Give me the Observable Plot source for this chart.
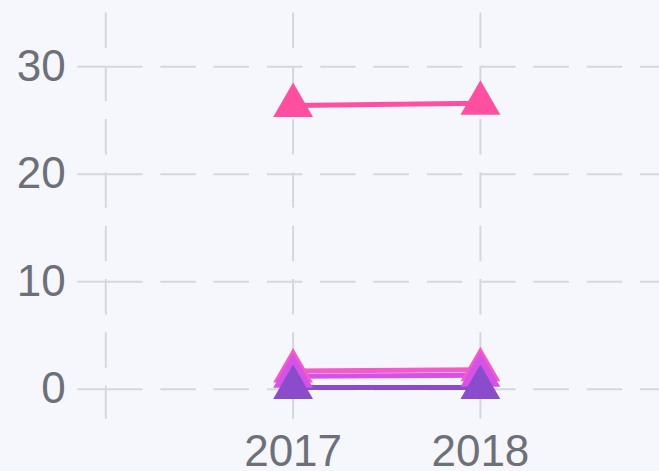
<!DOCTYPE html>
<html><head><meta charset="utf-8">
<script src="https://cdn.jsdelivr.net/npm/d3@7"></script>
<script src="https://cdn.jsdelivr.net/npm/@observablehq/plot@0.6"></script>
<style>html,body{margin:0;padding:0;background:#f6f7fc;overflow:hidden}</style>
</head><body><div id="chart"></div>
<script>
const years = [2017, 2018];
const gridYears = [2016, 2017, 2018, 2019];
const yTicks = [0, 10, 20, 30];
const seriesNames = ["Series A", "Series B", "Series C", "Series D"];
const seriesColors = ["#ff4fa0", "#f25cc8", "#d452e6", "#8a4ccb"];
const valuesA = [26.4, 26.6];
const valuesB = [1.7, 1.8];
const valuesC = [1.2, 1.3];
const valuesD = [0.15, 0.15];
const allValues = [valuesA, valuesB, valuesC, valuesD];
const data = seriesNames.flatMap((s, i) => years.map((yr, j) => ({series: s, year: yr, value: allValues[i][j]})));

const gridColor = "#d5d7dd";
const textColor = "#6e7079";
const plot = Plot.plot({
  width: 659, height: 471,
  marginLeft: 105.3, marginRight: 0, marginTop: 12.45, marginBottom: 82.3,
  style: {background: "#f6f7fc", fontFamily: "'Liberation Sans', Arial, sans-serif"},
  x: {type: "linear", domain: [2016, 2019], range: [105.3, 667.2], axis: null},
  y: {domain: [0, 35], range: [388.7, 12.45], axis: null},
  color: {domain: seriesNames, range: seriesColors},
  marks: [
    Plot.ruleY(yTicks, {stroke: gridColor, strokeWidth: 2, strokeDasharray: "35.5,17.8", strokeDashoffset: -1.7}),
    Plot.ruleX(gridYears, {stroke: gridColor, strokeWidth: 2, strokeDasharray: "35.5,17.8", insetBottom: -30}),
    Plot.axisY(yTicks, {label: null, tickSize: 28, tickPadding: 12, fontSize: 44, stroke: gridColor, strokeWidth: 2, fill: textColor}),
    Plot.axisX(years, {label: null, tickSize: 0, tickPadding: 46, fontSize: 44, fill: textColor, tickFormat: d => String(d)}),
    Plot.line(data, {x: "year", y: "value", z: "series", stroke: "series", strokeWidth: 5}),
    Plot.dot(data, {x: "year", y: "value", fill: "series", symbol: "triangle", r: 14.8, stroke: "none"})
  ]
});
document.getElementById("chart").appendChild(plot);
</script>
</body></html>
